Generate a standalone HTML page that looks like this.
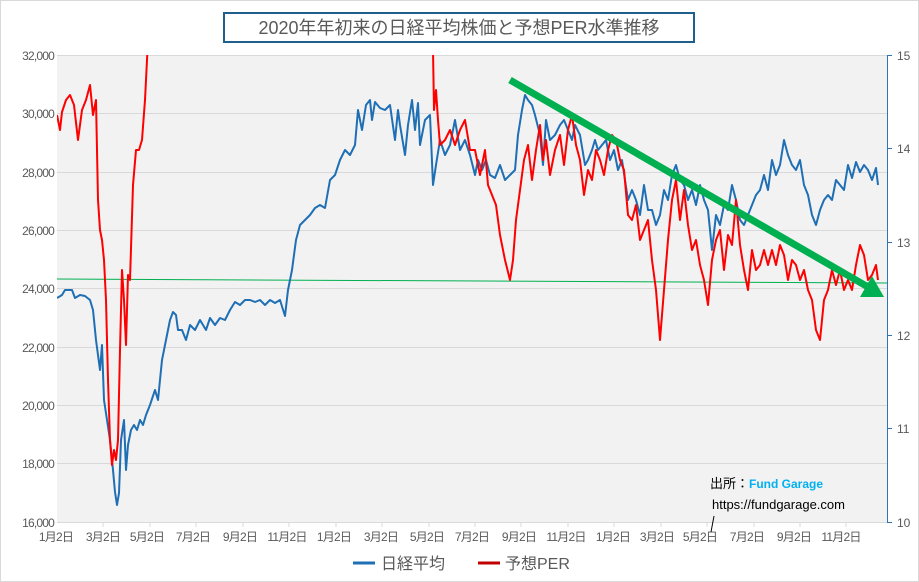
<!DOCTYPE html>
<html><head><meta charset="utf-8"><style>
body{margin:0;background:#fff;}
svg{display:block;font-family:"Liberation Sans","Noto Sans CJK JP",sans-serif;}
</style></head><body>
<svg width="919" height="582" viewBox="0 0 919 582" xmlns="http://www.w3.org/2000/svg">
<rect x="0.5" y="0.5" width="918" height="581" fill="#fff" stroke="#d9d9d9"/>
<rect x="57" y="55" width="830" height="467" fill="#f2f2f2"/>
<g stroke="#d9d9d9" stroke-width="1">
<line x1="57" x2="887" y1="55.5" y2="55.5"/><line x1="57" x2="887" y1="113.5" y2="113.5"/>
<line x1="57" x2="887" y1="172.5" y2="172.5"/><line x1="57" x2="887" y1="230.5" y2="230.5"/>
<line x1="57" x2="887" y1="288.5" y2="288.5"/><line x1="57" x2="887" y1="347.5" y2="347.5"/>
<line x1="57" x2="887" y1="405.5" y2="405.5"/><line x1="57" x2="887" y1="463.5" y2="463.5"/>
<line x1="57" x2="887" y1="522.5" y2="522.5"/>
</g>
<g stroke="#d9d9d9"><line x1="103" x2="103" y1="522" y2="527"/><line x1="150" x2="150" y1="522" y2="527"/><line x1="196" x2="196" y1="522" y2="527"/><line x1="243" x2="243" y1="522" y2="527"/><line x1="289" x2="289" y1="522" y2="527"/><line x1="336" x2="336" y1="522" y2="527"/><line x1="382" x2="382" y1="522" y2="527"/><line x1="429" x2="429" y1="522" y2="527"/><line x1="475" x2="475" y1="522" y2="527"/><line x1="521" x2="521" y1="522" y2="527"/><line x1="568" x2="568" y1="522" y2="527"/><line x1="614" x2="614" y1="522" y2="527"/><line x1="661" x2="661" y1="522" y2="527"/><line x1="707" x2="707" y1="522" y2="527"/><line x1="754" x2="754" y1="522" y2="527"/><line x1="800" x2="800" y1="522" y2="527"/><line x1="846" x2="846" y1="522" y2="527"/></g>
<line x1="887.5" x2="887.5" y1="55" y2="522" stroke="#2e75b6"/>
<g stroke="#2e75b6"><line x1="887" x2="892" y1="55.5" y2="55.5"/><line x1="887" x2="892" y1="148.5" y2="148.5"/><line x1="887" x2="892" y1="242.5" y2="242.5"/><line x1="887" x2="892" y1="335.5" y2="335.5"/><line x1="887" x2="892" y1="428.5" y2="428.5"/><line x1="887" x2="892" y1="522.5" y2="522.5"/></g>
<g font-size="12" fill="#595959" text-anchor="end" letter-spacing="-0.8">
<text x="54" y="60">32,000</text><text x="54" y="118">30,000</text><text x="54" y="177">28,000</text><text x="54" y="235">26,000</text><text x="54" y="293">24,000</text><text x="54" y="352">22,000</text><text x="54" y="410">20,000</text><text x="54" y="468">18,000</text><text x="54" y="527">16,000</text>
</g>
<g font-size="12" fill="#595959"><text x="897" y="60">15</text><text x="897" y="153">14</text><text x="897" y="247">13</text><text x="897" y="340">12</text><text x="897" y="433">11</text><text x="897" y="527">10</text></g>
<g font-size="12" fill="#595959" text-anchor="middle" letter-spacing="-0.8">
<text x="56" y="541">1月2日</text><text x="103" y="541">3月2日</text><text x="147" y="541">5月2日</text><text x="193" y="541">7月2日</text><text x="240" y="541">9月2日</text><text x="287" y="541">11月2日</text><text x="334" y="541">1月2日</text><text x="381" y="541">3月2日</text><text x="427" y="541">5月2日</text><text x="472" y="541">7月2日</text><text x="519" y="541">9月2日</text><text x="566" y="541">11月2日</text><text x="613" y="541">1月2日</text><text x="657" y="541">3月2日</text><text x="700" y="541">5月2日</text><text x="747" y="541">7月2日</text><text x="794" y="541">9月2日</text><text x="841" y="541">11月2日</text>
</g>
<line x1="57" y1="279" x2="887" y2="283" stroke="#00b050" stroke-width="1"/>
<defs><clipPath id="c"><rect x="57" y="55" width="830" height="467"/></clipPath></defs>
<g clip-path="url(#c)" fill="none" stroke-width="2" stroke-linejoin="round">
<polyline stroke="#1f6fb5" points="57,298 62,295 65,290 72,290 75,298 80,295 85,296 90,300 93,310 96,340 100,370 102,345 104,400 107,420 110,440 113,470 115,492 117,505 119,493 121,440 124,420 126,470 128,445 131,430 134,425 137,430 140,420 143,425 146,415 150,405 155,390 158,400 162,360 166,340 170,320 173,312 176,315 178,330 182,330 186,340 190,325 195,330 200,320 206,330 210,318 215,325 220,318 225,320 230,310 235,302 240,305 245,300 250,300 255,302 260,300 265,305 270,300 275,303 280,300 285,316 288,290 292,270 296,240 300,225 305,220 310,215 315,208 320,205 325,208 330,180 335,175 340,160 345,150 350,155 355,145 358,110 362,130 366,105 370,100 372,120 375,102 380,108 385,110 390,105 395,140 398,110 400,125 405,155 408,125 412,100 415,130 418,103 420,145 425,120 430,115 433,185 436,165 440,140 445,155 450,145 455,120 460,150 465,140 470,155 475,175 478,160 482,170 486,160 490,175 495,178 500,165 505,180 510,175 515,170 518,135 522,110 525,95 528,100 532,105 535,115 540,135 543,165 546,120 550,140 555,135 560,125 564,120 568,130 572,140 575,125 580,135 585,165 588,160 592,150 595,140 598,150 602,145 606,140 610,160 614,150 618,170 622,160 625,180 628,200 632,190 636,200 640,215 644,185 648,210 652,210 656,225 660,215 664,190 668,200 672,175 676,165 680,180 684,185 688,200 692,190 696,205 700,185 704,200 708,210 712,250 716,215 720,225 724,205 728,210 732,185 736,200 740,220 744,225 748,215 752,205 756,195 760,190 764,175 768,190 772,160 776,175 780,165 784,140 788,155 792,165 796,170 800,160 804,185 808,195 812,215 816,225 820,210 824,200 828,195 832,200 836,180 840,185 844,190 848,165 852,178 856,162 860,172 864,165 868,170 872,180 876,168 878,185"/>
<polyline stroke="#ff0000" points="57,115 60,130 62,112 66,100 70,95 74,105 78,140 82,110 86,100 90,85 93,115 96,100 98,200 100,230 102,240 104,260 106,300 108,380 110,440 112,465 114,450 116,460 118,440 120,350 122,270 124,300 126,345 128,275 130,280 133,185 136,150 139,150 142,140 145,100 147,60 148,40"/>
<polyline stroke="#ff0000" points="433,50 434,110 436,90 438,120 440,145 445,140 450,130 455,145 460,130 465,120 470,150 475,150 480,175 485,150 488,185 492,195 496,205 500,235 505,260 510,280 513,260 516,220 520,190 524,160 528,145 532,180 536,150 540,125 543,160 546,140 550,175 555,150 560,135 564,165 568,130 572,115 576,145 580,160 584,195 588,170 592,180 596,150 600,160 604,175 608,150 612,135 616,140 620,160 624,170 628,215 632,220 636,205 640,240 644,230 648,220 652,260 656,290 660,340 664,290 668,240 672,200 676,180 680,220 684,190 688,225 692,250 696,240 700,265 704,280 708,305 712,260 716,240 720,230 724,270 728,235 732,245 736,200 740,245 744,270 748,290 752,250 756,270 760,265 764,250 768,265 772,250 776,265 780,245 784,255 788,280 792,260 796,265 800,280 804,270 808,290 812,300 816,330 820,340 824,300 828,290 832,270 836,285 840,270 844,290 848,280 852,290 856,265 860,245 864,255 868,280 872,275 876,265 878,280"/>
</g>
<line x1="510" y1="80" x2="868" y2="287" stroke="#00b050" stroke-width="7"/>
<polygon points="884,297 860,297 872,276" fill="#00b050"/>
<rect x="224" y="13" width="470" height="29" fill="#fff" stroke="#1f5f8b" stroke-width="2"/>
<text x="459" y="34" font-size="18" fill="#595959" text-anchor="middle">2020年年初来の日経平均株価と予想PER水準推移</text>
<text x="710" y="488" font-size="13" fill="#000">出所：<tspan fill="#00b0f0" font-weight="bold" font-size="12">Fund Garage</tspan></text>
<text x="712" y="509" font-size="13" fill="#000">https://fundgarage.com</text>
<line x1="714" y1="516" x2="711" y2="532" stroke="#000" stroke-width="1"/>
<line x1="353" y1="563" x2="375" y2="563" stroke="#1f6fb5" stroke-width="3"/>
<text x="381" y="569" font-size="16" fill="#595959">日経平均</text>
<line x1="478" y1="563" x2="500" y2="563" stroke="#c00000" stroke-width="3"/>
<text x="505" y="569" font-size="16" fill="#595959">予想PER</text>
</svg>
</body></html>
